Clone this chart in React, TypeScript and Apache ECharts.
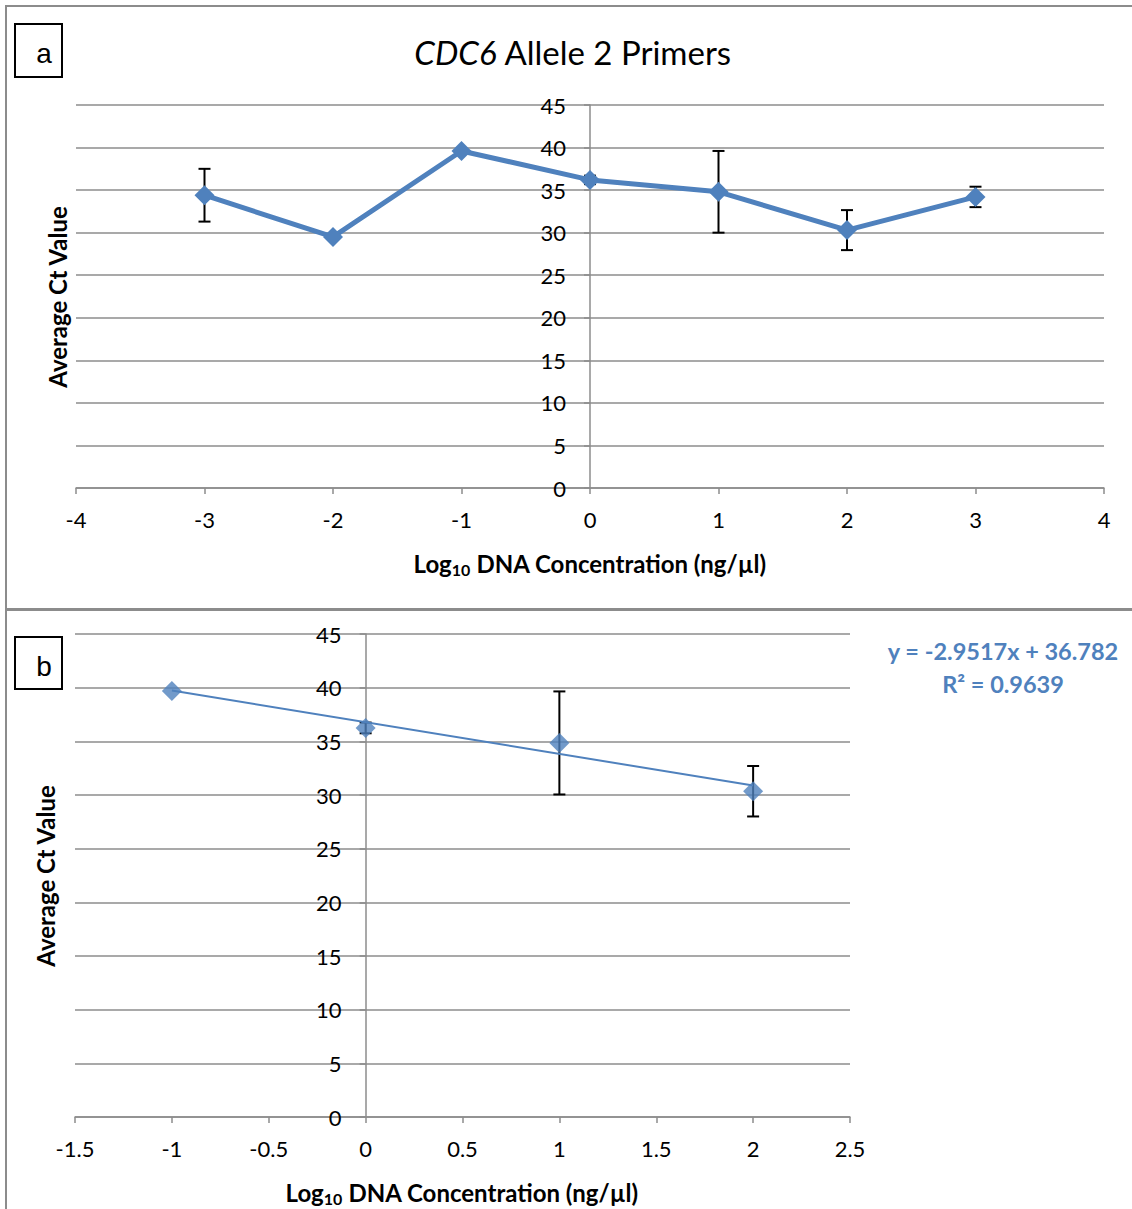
import React, { useEffect, useRef } from "react";
import * as echarts from "echarts";

const xA = [-3, -2, -1, 0, 1, 2, 3];
const yA = [34.4, 29.5, 39.6, 36.2, 34.8, 30.3, 34.2];
const errA = [3.1, 0, 0, 0.5, 4.8, 2.35, 1.2];

const xB = [-1, 0, 1, 2];
const yB = [39.7, 36.25, 34.85, 30.35];
const errB = [0, 0.5, 4.8, 2.35];

const trendSlope = -2.9517;
const trendIntercept = 36.782;
const trendRange = [-1, 2];

const xRangeA = [-4, 4, 1];
const xRangeB = [-1.5, 2.5, 0.5];

const BLUE = "#4F81BD";
const GRID = "#8c8c8c";
const FONT = "Lato, 'Open Sans', sans-serif";

const gridA = { left: 76, top: 105, width: 1028, height: 383 };
const gridB = { left: 75, top: 634, width: 775, height: 483 };

function errData(xs: number[], ys: number[], es: number[]) {
  return xs.map((x, i) => [x, ys[i] - es[i], ys[i] + es[i]]).filter((_, i) => es[i] > 0);
}

function errRender(params: any, api: any) {
  const x = api.value(0);
  const lo = api.value(1);
  const hi = api.value(2);
  const p1 = api.coord([x, hi]);
  const p2 = api.coord([x, lo]);
  const w = 6;
  const style = { stroke: "#000", lineWidth: 2 };
  return {
    type: "group",
    children: [
      { type: "line", shape: { x1: p1[0], y1: p1[1], x2: p2[0], y2: p2[1] }, style },
      { type: "line", shape: { x1: p1[0] - w, y1: p1[1], x2: p1[0] + w, y2: p1[1] }, style },
      { type: "line", shape: { x1: p2[0] - w, y1: p2[1], x2: p2[0] + w, y2: p2[1] }, style },
    ],
  };
}

const axisLabelStyle = { color: "#000", fontSize: 22, fontFamily: FONT };

function xAxisCfg(r: number[], gridIndex: number) {
  return {
    type: "value",
    gridIndex,
    min: r[0],
    max: r[1],
    interval: r[2],
    axisLine: { show: true, onZero: false, lineStyle: { color: GRID, width: 1.5 } },
    axisTick: { show: true, length: 6, lineStyle: { color: GRID, width: 1.5 } },
    axisLabel: { ...axisLabelStyle, margin: 20 },
    splitLine: { show: false },
  };
}

function yAxisCfg(gridIndex: number, grid: any, r: number[]) {
  // place the vertical axis where x = 0 crosses, as in the original
  const offset = -grid.width * (0 - r[0]) / (r[1] - r[0]);
  return {
    type: "value",
    gridIndex,
    min: 0,
    max: 45,
    interval: 5,
    offset,
    axisLine: { show: true, onZero: false, lineStyle: { color: GRID, width: 1.5 } },
    axisTick: { show: true, length: 6, lineStyle: { color: GRID, width: 1.5 } },
    axisLabel: { ...axisLabelStyle, margin: 24 },
    splitLine: { show: true, lineStyle: { color: GRID, width: 1.5 } },
  };
}

const subRich = {
  b: { fontSize: 24, fontWeight: "bold", fontFamily: FONT, color: "#000", lineHeight: 28 },
  s: { fontSize: 16, fontWeight: "bold", fontFamily: FONT, color: "#000", padding: [12, 0, 0, 0], lineHeight: 28 },
};

export default function App() {
  const ref = useRef<HTMLDivElement>(null);
  useEffect(() => {
    if (!ref.current) return;
    const chart = echarts.init(ref.current, null, { renderer: "svg" });
    const option: any = {
      animation: false,
      backgroundColor: "#fff",
      grid: [gridA, gridB],
      xAxis: [xAxisCfg(xRangeA, 0), xAxisCfg(xRangeB, 1)],
      yAxis: [yAxisCfg(0, gridA, xRangeA), yAxisCfg(1, gridB, xRangeB)],
      series: [
        {
          type: "custom",
          xAxisIndex: 0,
          yAxisIndex: 0,
          renderItem: errRender,
          data: errData(xA, yA, errA),
          z: 1,
        },
        {
          type: "line",
          xAxisIndex: 0,
          yAxisIndex: 0,
          data: xA.map((x, i) => [x, yA[i]]),
          symbol: "diamond",
          symbolSize: 20,
          lineStyle: { color: BLUE, width: 5 },
          itemStyle: { color: BLUE },
          z: 3,
        },
        {
          type: "custom",
          xAxisIndex: 1,
          yAxisIndex: 1,
          renderItem: errRender,
          data: errData(xB, yB, errB),
          z: 1,
        },
        {
          type: "line",
          xAxisIndex: 1,
          yAxisIndex: 1,
          data: trendRange.map((x) => [x, trendSlope * x + trendIntercept]),
          symbol: "none",
          lineStyle: { color: BLUE, width: 2 },
          z: 2,
        },
        {
          type: "scatter",
          xAxisIndex: 1,
          yAxisIndex: 1,
          data: xB.map((x, i) => [x, yB[i]]),
          symbol: "diamond",
          symbolSize: 20,
          itemStyle: { color: BLUE },
          z: 3,
        },
      ],
      graphic: [
        { type: "rect", shape: { x: 6, y: 6, width: 1140, height: 603 }, style: { fill: "none", stroke: "#8c8c8c", lineWidth: 2 }, z: -1 },
        { type: "rect", shape: { x: 6, y: 610, width: 1140, height: 610 }, style: { fill: "none", stroke: "#8c8c8c", lineWidth: 2 }, z: -1 },
        { type: "rect", shape: { x: 15, y: 24, width: 47, height: 53 }, style: { fill: "#fff", stroke: "#000", lineWidth: 2 } },
        { type: "text", x: 44, y: 53, style: { text: "a", fontSize: 28, fontFamily: "'Liberation Sans', Arial, sans-serif", fill: "#000", align: "center", verticalAlign: "middle" } },
        { type: "rect", shape: { x: 15, y: 637, width: 47, height: 52 }, style: { fill: "#fff", stroke: "#000", lineWidth: 2 } },
        { type: "text", x: 44, y: 666, style: { text: "b", fontSize: 28, fontFamily: "'Liberation Sans', Arial, sans-serif", fill: "#000", align: "center", verticalAlign: "middle" } },
        {
          type: "text",
          x: 573,
          y: 52,
          style: {
            text: "{i|CDC6}{n| Allele 2 Primers}",
            align: "center",
            verticalAlign: "middle",
            rich: {
              i: { fontSize: 33, fontStyle: "italic", fontFamily: FONT, fill: "#000", color: "#000" },
              n: { fontSize: 33, fontFamily: FONT, fill: "#000", color: "#000" },
            },
          },
        },
        {
          type: "text",
          x: 57,
          y: 297,
          rotation: Math.PI / 2,
          style: { text: "Average Ct Value", fontSize: 24, fontWeight: "bold", fontFamily: FONT, fill: "#000", align: "center", verticalAlign: "middle" },
        },
        {
          type: "text",
          x: 45,
          y: 876,
          rotation: Math.PI / 2,
          style: { text: "Average Ct Value", fontSize: 24, fontWeight: "bold", fontFamily: FONT, fill: "#000", align: "center", verticalAlign: "middle" },
        },
        {
          type: "text",
          x: 590,
          y: 563,
          style: { text: "{b|Log}{s|10}{b| DNA Concentration (ng/µl)}", align: "center", verticalAlign: "middle", rich: subRich },
        },
        {
          type: "text",
          x: 462,
          y: 1192,
          style: { text: "{b|Log}{s|10}{b| DNA Concentration (ng/µl)}", align: "center", verticalAlign: "middle", rich: subRich },
        },
        {
          type: "text",
          x: 1003,
          y: 651,
          style: { text: "y = -2.9517x + 36.782", fontSize: 23.5, fontWeight: "bold", fontFamily: FONT, fill: BLUE, align: "center", verticalAlign: "middle" },
        },
        {
          type: "text",
          x: 1003,
          y: 684,
          style: { text: "R² = 0.9639", fontSize: 23.5, fontWeight: "bold", fontFamily: FONT, fill: BLUE, align: "center", verticalAlign: "middle" },
        },
      ],
    };
    chart.setOption(option);
    return () => chart.dispose();
  }, []);
  return <div ref={ref} style={{ position: "absolute", left: 0, top: 0, width: 1132, height: 1209 }} />;
}
